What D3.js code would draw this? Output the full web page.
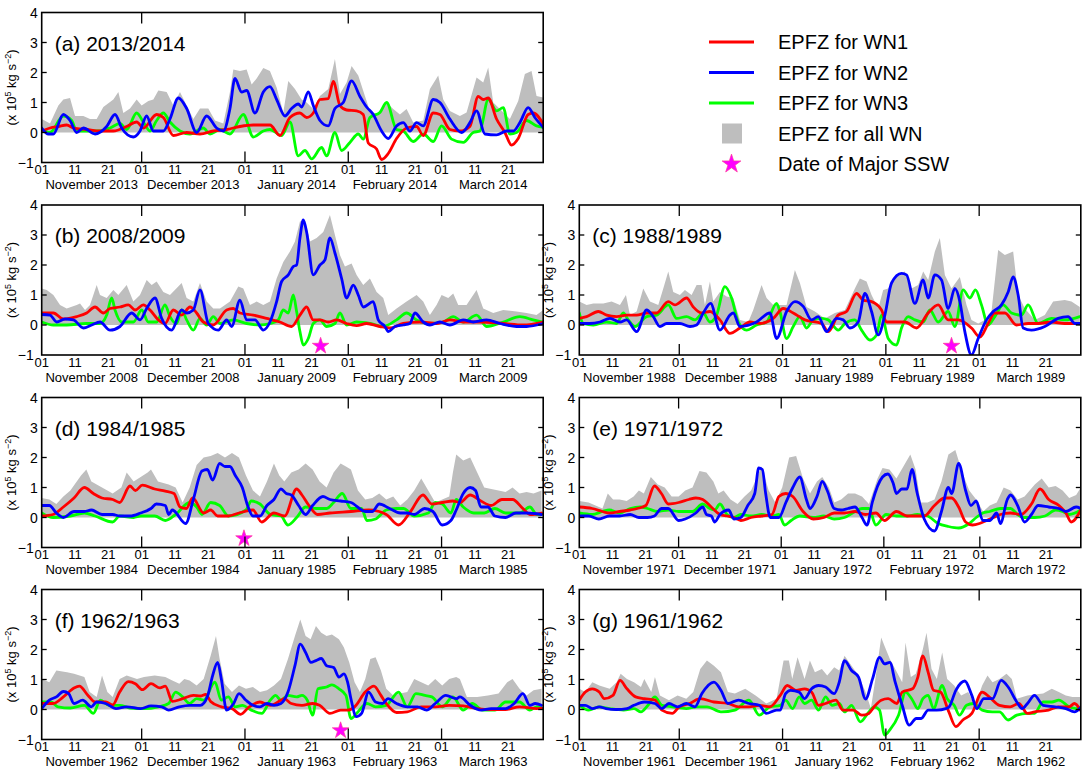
<!DOCTYPE html>
<html><head><meta charset="utf-8">
<script src="https://cdn.jsdelivr.net/npm/d3@7"></script>
<style>
body{margin:0;background:#fff}
svg{display:block}
text{font-family:"Liberation Sans",Arial,Helvetica,sans-serif;fill:#000}
</style>
</head><body>
<svg id="chart" width="1085" height="769"></svg>
<script>
// ---------------- DATA (day index from 1 Nov, value in 1e5 kg s^-2) ----------------
const panelIds = ['a','b','c','d','e','f','g'];
const panelTitles = ['(a) 2013/2014','(b) 2008/2009','(c) 1988/1989','(d) 1984/1985','(e) 1971/1972','(f) 1962/1963','(g) 1961/1962'];
const startYears = [2013,2008,1988,1984,1971,1962,1961];
const monthNames = ['November','December','January','February','March'];
const dayTickLabels = ['01','11','21'];
const yTickValues = [-1,0,1,2,3,4];
const legendLabels = ['EPFZ for WN1','EPFZ for WN2','EPFZ for WN3','EPFZ for all WN','Date of Major SSW'];
const sswPanels = ['b','c','d','f'];
const sswDays = [83.7,111.7,60.7,89.7];
const sswLevel = -0.7;

// (a) 2013/2014
const aRed = [[0,0.05],[2.5,0.15],[5,0.2],[7.5,0.25],[9.5,0.15],[13.5,0.1],[17.5,0.05],[21.5,0.05],[25.5,0.2],[28.5,0.35],[30.5,0.15],[34.5,0.6],[36.5,0.5],[39.5,-0.1],[43.5,0],[47.5,-0.05],[51.5,0.05],[55.5,0.1],[59.5,0.2],[63.5,0.25],[68.5,0.25],[71.5,-0.1],[74.5,0.5],[77.5,0.65],[79.5,0.5],[81.5,0.65],[83.5,1.1],[86,1.13],[87.5,1.7],[89.5,0.9],[91.5,0.75],[94.5,0.72],[96.5,0.6],[98,-0.35],[100.5,-0.55],[102,-0.9],[104,-0.7],[106.5,-0.2],[109.5,0.15],[112.5,0.2],[114.5,-0.1],[117.5,0.65],[119.5,0.6],[122.5,0.1],[125.5,0.05],[128.5,0.2],[131,1.2],[132.5,1.1],[134,1.15],[136.5,0.45],[139,0],[141,-0.42],[143,-0.2],[146,0.6],[147.5,0.65],[150.5,0.28]];
const aBlue = [[0,0.15],[2,-0.05],[3.5,-0.05],[6.5,0.6],[8.5,0.4],[10.5,0],[12.5,0.15],[16,-0.05],[19.5,0.2],[22,0.6],[24,0.15],[27.5,-0.15],[29.5,0.05],[31.5,0.55],[33.5,0.05],[36.5,0.05],[38.5,0.45],[41,1.15],[43.5,0.8],[46.5,0],[49.5,0.55],[52.5,0.15],[54.5,0.05],[56.5,0.8],[58,1.8],[60,1.35],[61.5,1.4],[64,0.65],[66.5,1.35],[68.5,1.53],[70.5,1.1],[73,0.55],[75,0.8],[77,0.95],[78,0.85],[80,1.35],[81.5,0.9],[83.5,0.4],[86,0.22],[88,0.8],[90.5,1.0],[93,1.72],[95.5,1.2],[97.5,0.85],[99.5,0.6],[102,0.05],[104,-0.2],[106.5,0.22],[108.5,0.33],[110.5,0.05],[112.5,0.33],[114.5,0.22],[117.5,1.1],[119.5,1.0],[122.5,0.45],[126,0],[128.5,0.33],[130.5,0.72],[133,-0.05],[136.5,-0.08],[139.5,0.05],[141.5,0.05],[143.5,0.33],[146,0.83],[148,0.5],[150.5,0.17]];
const aGreen = [[0,0.1],[2.5,0],[6.5,0.55],[9,0.4],[10.5,0.05],[13.5,0.05],[17.5,0.05],[20.5,0.15],[23.5,0.3],[25.5,0.1],[28.5,0.65],[30.5,0.35],[32.5,0.05],[34.5,0.4],[36.5,0.65],[38.5,0.35],[41.5,0.05],[44.5,-0.05],[48.5,0.15],[50.5,-0.05],[53.5,0.1],[56.5,-0.05],[60.5,0.6],[63.5,-0.15],[66.5,0.05],[68.5,0.1],[72,-0.1],[74.5,0.35],[77,-0.78],[79,-0.6],[81,-0.88],[84,-0.5],[85.5,-0.78],[88,0],[90,-0.6],[92.5,-0.33],[95,-0.05],[96.5,-0.22],[98.5,0.5],[101.5,0.67],[103.5,1.0],[106.5,0.1],[108.5,0.05],[111.5,-0.3],[114.5,-0.05],[117.5,-0.3],[120,0.22],[123,-0.22],[126.5,-0.33],[129.5,0],[131.5,0.05],[134,1.1],[136.5,0.72],[138.5,0.83],[140.5,-0.05],[142.5,0],[145.5,0.4],[148.5,0.22],[150.5,0.17]];
const aGray = [[0,0.45],[2.5,0.3],[5,0.9],[6.5,1.1],[8.5,1.15],[10,0.55],[12.5,0.55],[14.5,0.45],[16.5,0.45],[18.5,0.85],[21.5,1.1],[23,1.35],[24.5,0.65],[26.5,0.8],[28.5,1.1],[30,0.9],[32,1.05],[33.5,1.1],[35,1.4],[37.5,1.35],[39.5,0.9],[41.5,1.35],[43.5,0.9],[45.5,0.45],[47.5,0.8],[50,0.8],[52,0.4],[54.5,0.3],[56.5,1.35],[57.5,2.1],[59.5,2.05],[61.5,2.1],[63,1.6],[64.5,1.8],[66.5,2.15],[68.5,2.05],[70.5,1.5],[72.5,0.67],[74,1.72],[76,1.45],[78,1.1],[79.5,1.0],[81.5,0.78],[83.5,1.22],[86,1.45],[88,2.45],[89.5,1.28],[91.5,1.67],[93,2.22],[95,1.9],[97,1.22],[98.5,0.72],[100.5,0.6],[103.5,1.0],[105.5,0.78],[107.5,0.6],[109.5,0.78],[111.5,0.33],[114.5,0.4],[116.5,1.45],[119,1.9],[120.5,1.1],[122.5,0.72],[125.5,0.55],[127.5,0.67],[130.5,1.83],[132.5,1.67],[134,2.17],[135.5,1.0],[137.5,0.78],[140.5,0.45],[143,1.05],[145,1.95],[147,2.05],[148.5,1.22],[150.5,1.17]];

// (b) 2008/2009
const bRed = [[0,0.4],[3.5,0.4],[6.5,0.2],[10.5,0.28],[13.5,0.4],[16,0.6],[18.5,0.4],[20.5,0.55],[23.5,0.6],[26,0.67],[28,0.5],[30.5,0.67],[32.5,0.5],[35,0.17],[37,0.05],[39.5,0.5],[42,0.33],[44.5,0.6],[46.5,0.4],[48.5,0.1],[51.5,0],[55.5,0.5],[57.5,0.55],[59.5,0.4],[63.5,0.33],[67.5,0.22],[71.5,0.1],[75,-0.05],[77.5,0.33],[79.5,0.6],[81.5,0.17],[83.5,0.17],[86,0.1],[88.5,0.17],[91.5,0.05],[94.5,-0.02],[97.5,0.05],[101.5,-0.05],[104.5,-0.1],[108.5,0.05],[113.5,0.1],[118.5,0.05],[122.5,0.17],[126.5,0.1],[131.5,0.1],[138.5,0.05],[144.5,0],[150.5,0.1]];
const bBlue = [[0,0.35],[2.5,0.33],[4.5,0.1],[7,0.2],[9.5,0.17],[12.5,-0.1],[15,0],[17.5,0.1],[20.5,-0.17],[23.5,-0.05],[27,0.4],[29.5,0.17],[31.5,0.55],[34,0.9],[36,0.22],[39,-0.17],[42,0.5],[43.5,0.4],[45.5,0.5],[47.5,1.17],[50,0.05],[53,-0.17],[55.5,0.17],[57,-0.05],[59.5,0.83],[61.5,0.17],[64,0.17],[66.5,-0.17],[68.5,0.1],[70.5,0.78],[72,1.45],[74,1.67],[75.5,1.95],[76.5,2.0],[77.5,2.9],[78.5,3.5],[79.5,3.1],[81.5,1.67],[83.5,2.0],[85,2.17],[86.5,2.9],[88,2.4],[90,1.55],[91.5,0.9],[93.5,1.33],[95,1.0],[96.5,0.6],[99.5,0.78],[101,0.17],[103,-0.05],[104,-0.22],[106,-0.05],[108.5,0],[110.5,0.05],[112,0.4],[114.5,0.1],[116.5,0],[119.5,0.1],[122.5,0],[126.5,0.17],[129.5,0.1],[133.5,0.17],[137.5,0.05],[142.5,-0.05],[145.5,-0.05],[150.5,0.05]];
const bGreen = [[0,0.1],[3.5,0],[7.5,0],[13.5,0.05],[17.5,0.05],[19.5,0.33],[21,0.9],[22,0.5],[24,0.1],[27.5,0.1],[30,0.5],[32,0.1],[34.5,0.1],[37,0.67],[38.5,0.28],[40.5,0.05],[42,0.5],[43.5,0.17],[45.5,-0.17],[47.5,0.22],[49.5,0],[51.5,0.28],[53.5,0.05],[57.5,0.17],[61.5,0.05],[65.5,0],[68.5,0.05],[71,0.17],[72.5,0.5],[74,0.4],[75.5,1.0],[76.5,0.45],[77.5,-0.22],[78.5,-0.67],[80,-0.45],[81.5,0.05],[83.5,0.17],[85.5,-0.05],[88,0.05],[89.5,0.4],[91.5,0],[94.5,0.1],[98.5,0.05],[102.5,-0.05],[106.5,0.17],[109.5,0.4],[112.5,0.17],[116.5,0.05],[120.5,0.1],[123.5,0.28],[126.5,0.1],[130.5,0.33],[133.5,-0.05],[138.5,0.1],[143.5,0.28],[147.5,0.17],[150.5,0.1]];
const bGray = [[0,1.22],[1.5,1.17],[3.5,1.0],[5.5,0.67],[7.5,0.55],[10.5,0.67],[11.5,0.72],[13,0.5],[14.5,0.67],[16.5,1.33],[17.5,1.0],[19.5,0.9],[21.5,1.17],[23,1.0],[25.5,1.33],[27.5,0.78],[29.5,1.0],[31.5,1.5],[33,1.33],[34.5,1.45],[36.5,1.1],[38.5,1.0],[42,1.4],[43.5,0.9],[45.5,0.78],[47.5,1.4],[49.5,0.78],[51.5,0.55],[53.5,0.55],[56.5,0.78],[59,1.28],[60.5,1.22],[62.5,0.67],[64.5,0.78],[66.5,0.67],[68.5,0.78],[70.5,1.55],[72.5,2.1],[74.5,2.45],[76,2.78],[77.5,3.45],[79,3.5],[80.5,2.78],[82.5,2.9],[84.5,3.1],[86.5,3.67],[88,3.0],[89.5,2.33],[91,1.95],[93,2.05],[94.5,1.67],[96.5,1.33],[98.5,1.55],[100.5,1.1],[102.5,0.9],[104,0.33],[106.5,0.55],[109.5,0.78],[112.5,1.0],[114.5,0.78],[116.5,0.33],[118.5,0.67],[120,1.0],[122,0.9],[123.5,1.05],[125,0.67],[127.5,0.67],[130.5,1.17],[132.5,0.55],[135.5,0.4],[138.5,0.5],[142.5,0.45],[145.5,0.4],[148.5,0.33],[150.5,0.5]];

// (c) 1988/1989
const cRed = [[0,0.22],[2.2,0.28],[5.7,0.45],[8.2,0.33],[11.2,0.28],[14.2,0.33],[17.2,0.33],[20.2,0.4],[23.2,0.4],[26.7,0.78],[28.7,0.67],[32.2,0.9],[34.2,0.6],[36.7,0.4],[39.2,0.45],[42.2,0.17],[45.2,-0.28],[48.2,-0.1],[51.2,0.1],[54.2,0.05],[58.2,0.22],[61.2,0.55],[64.2,0.4],[67.7,0.17],[72.7,0.05],[74.7,-0.22],[77.7,0.33],[80.2,0.45],[83.2,1.05],[85.2,0.83],[87.7,0.78],[90.7,0.5],[92.2,0.1],[94.7,0.1],[97.7,0.1],[101.2,-0.1],[104.7,0.4],[107.7,0.67],[110.7,0.17],[113.7,0.17],[117.7,-0.1],[120.2,-0.4],[122.7,0.05],[124.7,0.4],[127.7,0.4],[131.2,0],[134.7,0.05],[137.7,0.05],[141.7,0.1],[145.7,0.05],[150.2,0.05]];
const cBlue = [[0,0.05],[3.2,0.05],[6.2,0.1],[9.2,0.22],[12.2,0.1],[14.2,0.17],[17.2,-0.22],[20.2,0.5],[22.2,0.28],[24.2,-0.05],[26.2,0.05],[30.2,0.05],[33.2,-0.05],[35.2,0],[37.2,0.4],[39.4,0.72],[42.2,-0.17],[45.2,0.33],[46.2,0.4],[48.2,-0.05],[53.2,0.1],[57.2,0.4],[59.2,-0.45],[62.2,0.45],[64.7,0.78],[67.2,0.62],[69.7,0.17],[71.7,0.28],[74.2,-0.22],[77.2,0.22],[79.2,0.17],[81.2,-0.1],[83.7,0.1],[85.7,1.05],[87.7,0.45],[89.7,-0.33],[91.7,0.33],[93.7,1.4],[96.7,1.72],[98.2,1.67],[100.7,0.72],[103.2,1.5],[104.7,0.9],[106.7,1.67],[108.7,1.5],[110.7,0.55],[112.7,1.22],[114.2,0.78],[115.7,-0.22],[117.7,-1.0],[119.7,-0.45],[122.2,0.17],[124.2,0.45],[126.7,0.67],[128.7,1.1],[130.2,1.6],[131.7,1.0],[133.2,-0.1],[135.7,-0.17],[139.7,-0.05],[143.7,0.22],[146.7,0.28],[148.7,0.05],[150.2,0.05]];
const cGreen = [[0,0.4],[1.2,0.05],[4.2,0],[8.2,0.1],[11.2,0.05],[13.2,0.4],[14.7,0.17],[16.7,-0.05],[20.2,0.28],[23.2,0.33],[26.7,0.67],[29.2,0.22],[32.2,0.28],[34.7,0.17],[37.2,0.4],[39.2,0.1],[41.2,0.33],[43.7,1.28],[45.7,0.9],[47.7,0.1],[50.2,-0.17],[53.2,0],[56.2,0.1],[59.2,0.72],[60.2,0.45],[62.2,-0.45],[64.2,-0.05],[66.2,0.28],[68.2,-0.1],[70.2,0.17],[72.7,0.22],[74.7,0.17],[77.7,-0.17],[79.7,0.05],[82.7,0.17],[84.7,-0.17],[87.2,-0.5],[89.2,-0.33],[90.7,0.33],[92.7,-0.45],[95.2,-0.67],[96.7,-0.1],[98.7,0.28],[100.7,0.17],[103.2,0.1],[105.2,0.5],[107.7,0.1],[110.7,0.45],[112.7,-0.05],[115.2,1.17],[117.2,0.9],[118.9,1.17],[120.7,0.67],[122.7,0],[124.7,0.28],[127.2,0.67],[129.7,0.4],[132.7,0.33],[134.7,0.67],[137.7,0.05],[141.7,0.22],[145.7,0.17],[150.2,0.28]];
const cGray = [[0,0.78],[2.2,0.67],[4.2,0.72],[7.2,0.72],[9.7,0.78],[12.2,0.67],[14,1.0],[15.2,0.33],[17.2,0.45],[19.2,1.22],[21.2,0.78],[23.7,0.67],[25.2,1.22],[26.7,1.78],[28.2,1.1],[30.2,1.0],[31.7,1.17],[33.7,1.0],[35.2,1.33],[36.7,1.33],[37.7,0.67],[39.2,1.45],[40.2,0.78],[42.2,1.1],[44.2,0.95],[46.2,0.9],[48.2,0.17],[50.7,0.1],[52.2,0.5],[54.7,1.33],[56.2,0.9],[58.2,0.67],[60.2,0.67],[62.2,0.67],[64.7,1.83],[66.2,1.4],[68.2,0.6],[70.7,0.45],[73.7,0.22],[76.7,0.4],[79.7,0.5],[82.7,1.22],[84.2,1.55],[86.2,1.45],[87.7,1.0],[89.7,0.55],[91.2,1.17],[92.7,1.22],[95.2,1.67],[97.7,1.78],[99.7,1.22],[101.7,1.33],[103.2,1.78],[104.7,1.5],[106.7,2.45],[108.2,2.9],[109.7,1.67],[111.7,1.22],[114.2,1.6],[116.2,0.67],[117.7,0.17],[119.7,0.05],[121.7,0.17],[123.7,0.45],[125.7,2.5],[127.7,2.33],[130.2,2.45],[131.7,1.0],[133.7,0.55],[136.7,0.17],[139.7,0.33],[142.2,0.78],[145.7,0.83],[147.7,0.78],[150.2,0.6]];

// (d) 1984/1985
const dRed = [[0,0.05],[3.4,0.1],[6.5,0.35],[9.7,0.65],[12.8,1.0],[15.5,0.8],[18.1,0.65],[21.3,0.6],[23.4,0.5],[26.5,1.05],[28.1,0.9],[30.2,1.08],[33.9,0.95],[37.1,0.88],[39.7,0.8],[41.5,0.35],[43.4,0.3],[45.3,0.65],[48.6,0.15],[50.7,0.25],[52.8,0.05],[56,0.05],[59.2,0.15],[63.4,0.25],[66,-0.15],[69.7,0.15],[72.9,0.05],[76.5,0.95],[78.1,0.75],[80.2,0.4],[82.8,0.1],[86.5,0.15],[92.8,0.2],[98.1,0.25],[101.3,0.2],[103.4,0.1],[107.1,-0.25],[110.7,0.2],[114.4,0.75],[117.1,0.45],[120.2,0.5],[123.4,0.55],[125.5,0.5],[128.6,0.75],[131.8,0.55],[134.9,0.4],[138.1,0.6],[141.3,0.6],[144.4,0.3],[146.5,0.1],[150,0.15]];
const dBlue = [[0,0.4],[2.3,0.4],[4.4,0.15],[6.5,0],[9.7,0.2],[12.8,0.2],[14.9,0.25],[18.1,0.1],[21.3,0.1],[23.4,0.05],[26.5,0.05],[29.7,0.15],[32.8,0.3],[34.4,0.45],[37.1,0.4],[38.1,0.1],[39.2,0.25],[43.2,-0.2],[45.5,0.6],[48.1,1.55],[49.7,1.6],[51.3,1.25],[53.4,1.8],[55,1.7],[56.5,1.7],[58.1,1.4],[60.2,1.0],[61.8,0.4],[63.4,0.05],[65.5,0.05],[67.6,0.4],[69.7,0.6],[71.8,0.95],[73.4,0.8],[74.9,0.75],[77.1,0.4],[79.2,0.1],[81.3,0.4],[84.4,0.7],[86.5,0.6],[89.7,0.55],[92.8,0.5],[97.1,0.2],[99.2,0.2],[101.3,0.45],[104.4,0.3],[107.6,0.15],[109.7,0.15],[111.8,0.1],[114.9,0.3],[117.4,0.2],[120.2,-0.25],[122.8,-0.1],[124.4,0.25],[126.5,0.8],[128.6,1.0],[130.2,0.9],[131.8,0.35],[133.9,0.35],[136,0.05],[139.2,0],[142.3,0.15],[145.5,0.15],[150,0.1]];
const dGreen = [[0,0.15],[3.4,0],[8.6,0.05],[12.8,0.15],[16,0.05],[21.3,-0.15],[23.4,0.05],[27.6,0],[29.7,0.05],[33.9,0.05],[37.1,-0.1],[40.2,0.1],[44.4,0.5],[46.5,0.35],[48.1,0.1],[50.7,0.5],[53.4,0.4],[56,0.05],[61.3,0.25],[62.9,0.55],[65.5,0.45],[68.6,0.1],[71.8,0.05],[73.9,-0.25],[76.5,0],[79.2,0.35],[82.3,0.3],[85.5,0.3],[87.6,0.5],[90.2,0.8],[92.8,0.3],[96,0.3],[97.6,-0.1],[100.2,-0.05],[103.4,0.25],[106.5,0.3],[108.6,0.3],[111.8,0.05],[116,0.15],[118.1,0.5],[120.2,0.45],[122.8,0.15],[124.4,0.6],[126.5,0.35],[129.7,0.15],[132.8,0.15],[136,0.3],[139.2,0.15],[143.4,0.15],[146.5,0.35],[148.6,0.1],[150,0.1]];
const dGray = [[0,0.65],[2.3,0.6],[4.4,0.45],[6.5,0.7],[8.6,0.9],[11.8,1.4],[13.4,1.6],[14.9,1.2],[18.1,1.0],[21.3,0.8],[23.9,1.0],[25.5,1.5],[27.6,1.2],[29.7,1.35],[31.8,1.5],[32.8,1.6],[34.9,1.2],[38.1,1.1],[40.2,1.0],[42.3,0.5],[44.4,1.0],[46.5,1.75],[48.6,2.0],[50.7,2.05],[52.8,2.15],[55,2.0],[57.1,2.15],[59.2,2.0],[61.3,1.4],[63.4,0.9],[65.5,0.7],[67.6,1.2],[69.7,1.8],[71.3,1.4],[72.8,1.2],[74.9,1.5],[77.1,1.6],[79.2,1.8],[81.3,1.6],[83.4,1.2],[85.5,1.0],[87.6,1.5],[89.7,1.8],[91.3,1.7],[92.8,1.6],[94.9,0.9],[97.1,0.6],[99.2,0.65],[101.3,0.8],[103.4,0.6],[105.5,0.7],[107.6,0.4],[109.7,0.6],[111.8,0.9],[113.9,1.3],[116,0.9],[118.1,0.5],[120.2,0.6],[122.3,0.7],[123.4,1.5],[124.4,2.1],[126.5,1.9],[128.6,2.0],[130.7,1.5],[132.8,1.0],[134.9,0.95],[137.1,0.9],[139.2,0.85],[141.3,1.0],[143.4,0.8],[145.5,0.85],[147.6,0.8],[150,0.9]];

// (e) 1971/1972
const eRed = [[0,0.35],[3.9,0.3],[7,0.2],[9.1,0.15],[12.2,0.2],[15.4,0.25],[17.5,0.3],[20.1,0.4],[22.7,1.05],[24.8,0.8],[26.9,0.45],[30,0.5],[33.1,0.6],[35.2,0.65],[37.3,0.6],[39.4,0.4],[42.5,0.1],[44.6,0.05],[46.7,0],[48.8,-0.1],[51.9,0],[55.1,0.05],[58.2,0.1],[60.3,0.7],[62.4,0.8],[64.5,0.7],[67.6,0.2],[70.7,-0.05],[73.9,0],[77,0.15],[80.1,0.15],[83.3,0.2],[86.4,0.1],[89.6,0.15],[92.2,-0.1],[95.8,0.2],[99,0.05],[102.1,0.05],[104.2,0.05],[107.3,0.4],[110.4,0.65],[112.5,0.65],[114.6,0.35],[116.7,-0.15],[118.8,-0.25],[120.9,-0.2],[123,-0.1],[125.1,0],[127.2,0.1],[130.3,0.15],[133.4,0.1],[136.6,0.45],[139.2,0.95],[141.8,0.6],[144.9,0.4],[147,0.15],[148.6,-0.15],[151.5,0.25]];
const eBlue = [[0,0.05],[2.8,0.05],[5.9,-0.05],[9.1,0.05],[12.2,0.05],[15.4,0.1],[18,0],[20.6,0],[22.7,0.05],[24.8,0.3],[26.9,0.3],[30,-0.1],[32,-0.05],[35.2,0.15],[37.3,0.35],[38.4,0.1],[39.9,0.05],[40.9,-0.15],[42.5,0.1],[45.1,0.25],[46.7,-0.05],[48.8,0],[50.9,0.4],[53,0.8],[54.2,1.65],[55.3,1.6],[56.3,0.8],[57.7,0],[60.3,0],[62.4,0.5],[64.5,1.0],[66.6,1.35],[68.6,0.6],[69.7,0.3],[71.8,0.7],[73.4,1.2],[74.9,0.9],[77,0.3],[79.1,0.25],[81.2,0.3],[83.3,0.35],[85.4,0],[86.9,-0.25],[88.5,0.5],[91.6,1.35],[93.2,1.45],[94.8,1.15],[95.8,0.8],[97.4,0.95],[99,0.95],[100.5,1.6],[102.1,0.8],[104.2,-0.05],[107.3,-0.45],[109.4,0.2],[111.5,1.0],[112.5,0.8],[114.6,1.8],[116.7,0.9],[118.3,0.4],[119.9,0.55],[121.9,-0.1],[124,-0.1],[126.1,0.15],[127.2,-0.2],[129.3,0.6],[130.3,0.75],[132.4,0.4],[134.5,-0.15],[136.6,0.1],[138.6,0.4],[141.8,0.35],[144.9,0.3],[147,0.2],[150.1,0.35],[151.5,0.3]];
const eGreen = [[0,0.15],[3.9,0.1],[7,0.2],[9.1,0.25],[12.2,0.15],[15.4,0.3],[18.5,0.35],[20.6,0.3],[23.7,0.2],[26.9,0.25],[30,0.2],[34.2,0.2],[37.3,0.45],[39.4,0.3],[40.9,0.25],[42.5,0.45],[44.6,0.1],[46.7,0],[48.8,0.1],[51.9,0.05],[55.1,0.1],[58.2,0.05],[60.3,0.1],[62,-0.25],[64,-0.1],[66.6,0.05],[70.7,0],[73.9,0.05],[77,-0.05],[80.1,0],[83.3,0.2],[85.4,0.3],[87.5,0.3],[89.6,-0.25],[92.7,0.1],[95.8,0.05],[99,0.05],[102.1,0.1],[105.2,0.05],[108.4,-0.2],[111.5,-0.3],[114.6,-0.35],[117.8,-0.2],[119.9,0],[121.9,0.15],[124,0.2],[127.2,0.3],[130.3,0.3],[132.4,0.1],[134.5,0],[137.6,0],[140.7,0.05],[143.9,0.25],[146,0.2],[148,0.1],[151.5,0.25]];
const eGray = [[0,0.55],[2.8,0.5],[4.9,0.4],[7,0.3],[8.6,0.8],[10.2,0.6],[12.2,0.6],[14.3,0.55],[16.4,0.7],[18,0.9],[19.5,0.8],[21.6,1.35],[23.7,1.1],[25.8,1.0],[27.9,0.7],[30,0.7],[32,0.9],[34.2,1.0],[36.3,1.55],[38.4,1.5],[40.5,1.2],[42,0.8],[43.6,0.9],[45.7,0.6],[47.8,0.45],[49.9,0.7],[51.9,0.9],[53.5,1.3],[55.1,1.7],[57.2,0.9],[59.2,0.5],[61.3,1.0],[63.4,2.0],[65.5,2.05],[67.6,1.3],[69.7,0.8],[71.8,1.2],[73.4,1.35],[75.4,1.0],[77,0.5],[79.1,0.6],[81.2,0.8],[83.3,0.8],[85.4,0.7],[87.5,0.45],[90.1,1.3],[91.6,1.65],[93.7,1.6],[95.8,1.3],[97.9,1.7],[100,2.1],[101.6,1.6],[103.1,0.5],[105.2,0.5],[107.3,0.6],[109.4,1.2],[111.5,2.1],[113.6,2.25],[115.7,1.5],[117.8,0.9],[119.9,0.6],[122,0.2],[124,0.4],[126.1,0.5],[128.2,1.0],[130.3,0.9],[132.4,0.6],[134.5,0.7],[137.6,1.1],[139.7,1.3],[141.8,1.0],[143.9,1.05],[146,0.9],[148,0.65],[150.1,0.75],[151.5,1.0]];

// (f) 1962/1963
const fRed = [[0,0.2],[3.4,0.2],[6.5,0.42],[9.7,0.72],[11.3,0.78],[13.9,0.47],[16,0.25],[19.2,0.25],[21.3,0.15],[23.4,0.58],[26,0.93],[28.1,0.86],[30.2,0.66],[32.8,0.86],[35.5,0.72],[37.1,0.78],[39.2,0.27],[42.3,0.36],[45.5,0.47],[47.6,0.45],[49.2,0.5],[50.7,0.27],[53.9,0.09],[57.1,0.03],[59.7,-0.16],[62.3,0.09],[65.5,0.25],[68.6,0.14],[71.8,0.31],[72.8,0.36],[74.9,0.2],[78.1,0.14],[81.3,0.2],[83.4,0.14],[86.5,-0.13],[89.7,-0.02],[91.8,-0.02],[93.9,0.09],[97.1,0.58],[99.7,0.78],[101.8,0.47],[103.4,0.2],[106.5,-0.1],[109.7,-0.08],[113.9,0.09],[118.1,0.09],[122.3,0.14],[126.5,0.12],[130.7,0.03],[134.9,0],[139.2,0],[143.4,0.09],[148.6,0.03],[150,0.05]];
const fBlue = [[0,0.03],[2.3,0.31],[4.4,0.42],[6.5,0.6],[8.1,0.53],[9.7,0.2],[12.3,0.31],[14.9,0.09],[16.5,0.25],[19.2,0.2],[22.3,0.03],[25.5,0.09],[29.7,0.03],[32.8,0.12],[36,0.09],[38.1,-0.02],[41.3,0.09],[44.4,0.14],[47.6,0.14],[49.7,0.42],[51.3,1.13],[52.8,1.57],[53.9,1.02],[55.5,-0.02],[57.6,0.2],[59.2,0.53],[61.3,0.31],[63.4,0.14],[65.5,0.09],[67.6,0.2],[69.7,0.14],[71.8,0.2],[73.9,0.58],[76,1.46],[77.6,2.18],[79.2,1.9],[80.8,1.57],[82.3,1.63],[83.9,1.7],[85.5,1.46],[87.6,1.4],[89.2,1.08],[90.7,1.19],[91.8,0.91],[92.8,0.36],[94.4,-0.24],[96,-0.13],[98.1,0.58],[100.2,0.25],[102.3,0.2],[103.9,0.36],[106.5,0.2],[109.7,0.09],[112.8,0.09],[115.5,-0.02],[118.1,0.2],[121.3,0.47],[124.4,0.36],[125.5,0.42],[128.6,0.14],[131.8,-0.02],[134.9,0.03],[139.2,0.03],[141.8,0.2],[144.4,0.53],[146.5,0.14],[148.1,0.2],[150,0.14]];
const fGreen = [[0,0.25],[2.8,0.25],[4.9,0.09],[8.6,0.05],[12.8,0.14],[15.5,-0.13],[17.6,0.31],[20.2,0.14],[23.4,0.14],[26.5,0.05],[30.7,0.03],[35,0.09],[38.1,0.2],[40.2,0.58],[42.3,0.42],[44.4,0.2],[46.5,0.36],[48.6,0.31],[52,0.91],[53.9,0.31],[56,0.42],[58.1,0.09],[60.2,0.14],[62.9,-0.02],[66,-0.13],[68.6,0.31],[70.2,0.47],[71.8,0.31],[73.9,0.47],[76.5,0.42],[78.1,0.47],[79.7,0.31],[81.3,-0.19],[82.9,0.69],[85.5,0.75],[87.1,0.82],[89.2,0.69],[91.3,0.47],[92.8,-0.3],[94.9,-0.08],[97.6,0.2],[100.2,0.09],[103.4,0.14],[107.1,0.58],[109.7,0.09],[112.3,0.53],[115,0.47],[117.1,0.42],[120.2,0.09],[123.4,0.42],[126.5,-0.02],[129.2,0.2],[132.3,-0.02],[136,-0.02],[139.2,0.25],[143.4,0.25],[146.5,-0.02],[148.6,0.09],[150,0.05]];
const fGray = [[0,1.02],[2.3,0.91],[4.4,1.3],[7.6,1.24],[9.7,1.19],[12.8,1.08],[14.4,0.58],[16.5,0.42],[18.1,1.13],[19.7,0.58],[21.3,0.42],[23.4,1.02],[25.5,1.13],[28.6,1.02],[30.7,1.08],[33.9,1.13],[37.1,1.08],[39.2,0.97],[41.3,0.86],[42.8,1.02],[44.4,0.97],[46.5,0.8],[48.6,1.02],[50.7,1.79],[52.3,2.45],[53.4,1.68],[54.9,0.86],[57.1,0.58],[59.2,0.8],[61.3,0.69],[63.4,0.75],[65.5,0.58],[67.6,0.64],[69.7,0.8],[71.8,1.02],[73.9,1.68],[76,2.45],[77.6,3.0],[79.2,2.45],[80.7,2.34],[82.3,2.78],[83.9,2.56],[85.5,2.45],[87.1,2.5],[89.2,2.34],[90.7,2.07],[92.3,1.57],[93.9,0.91],[95.5,0.58],[97.1,1.02],[98.6,1.68],[100.2,1.74],[101.8,1.3],[103.4,0.69],[105.5,0.47],[107.6,0.53],[109.7,0.58],[111.8,1.02],[113.9,0.91],[116,0.8],[118.1,1.02],[120.2,0.8],[122.3,1.02],[124.4,1.08],[125.5,1.02],[127.6,0.42],[130.7,0.42],[133.9,0.47],[137.1,0.53],[139.7,0.91],[141.3,1.02],[143.4,0.69],[145.5,0.47],[147.6,0.64],[150,0.69]];

// (g) 1961/1962
const gRed = [[0,0.31],[1.8,0.58],[3.9,0.69],[6,0.58],[7.5,0.36],[10.1,0.47],[12.2,0.97],[14.3,0.69],[16.9,0.42],[19.5,0.36],[22.7,0.31],[24.8,-0.02],[27.9,-0.13],[30,0.09],[33.1,0.2],[36.3,0.36],[40.4,0.25],[44.6,0.2],[47.8,0.09],[50.9,0.09],[54,0.14],[57.2,0.09],[60.3,0.47],[62.4,0.8],[65,0.64],[67.6,0.69],[69.7,0.58],[71.8,0.14],[73.9,0.2],[77,0.31],[79.1,-0.02],[82.2,-0.02],[84.8,-0.19],[86.9,-0.13],[88.5,0.09],[90.6,0.31],[92.7,0.36],[95.3,0.2],[96.9,0.58],[100,0.69],[101.6,1.08],[103.1,1.79],[104.7,1.24],[106.3,0.64],[108.4,0.58],[110.9,-0.08],[113,-0.57],[115.1,-0.35],[117.8,-0.13],[120.9,0.58],[123,0.42],[126.1,0.14],[129.3,0.09],[131.9,0.2],[134.5,-0.13],[136.6,-0.08],[140.8,-0.02],[143.9,0.09],[147,0.09],[148.6,0.2],[150.7,-0.08]];
const gBlue = [[0,0.14],[1.8,0.14],[3.9,0.03],[6,0.09],[8,0.03],[11.2,0],[14.3,0.03],[16.4,0.14],[19.5,0.25],[22.7,0.2],[24.8,0.03],[26.9,0.2],[29.5,0.09],[32.1,0.2],[34.7,0.09],[36.8,0.53],[40.4,0.91],[42.5,0.64],[44.6,0.2],[47.8,0.31],[50.9,0.2],[54,0.14],[56.1,-0.13],[59.2,-0.02],[60.3,-0.02],[61.9,0.53],[63.4,0.64],[66,0.58],[67.6,0.36],[69.7,0.69],[71.8,0.8],[73.9,0.75],[76.5,0.53],[78,0.91],[79.6,1.63],[81.7,1.3],[83.8,1.08],[85.9,0.35],[88,1.02],[90.1,1.74],[91.6,1.52],[93.2,1.57],[94.8,0.91],[96.9,0.14],[99,-0.52],[101.1,-0.3],[102.6,-0.3],[104.7,-0.02],[107.3,-0.02],[110,0.03],[111,0.09],[113,0.64],[115.7,0.95],[117.8,0.47],[119.3,0.03],[121.4,0.36],[124,0.36],[126.6,0.97],[128.7,0.75],[131.3,0.25],[132.9,0.03],[134.5,0.2],[136.6,0.47],[139.2,0.14],[142.8,0.09],[146,0.03],[148.6,-0.08],[150.7,0.09]];
const gGreen = [[0,0.14],[2.8,-0.02],[5.9,0.09],[9.1,0.03],[13.3,-0.02],[16.4,0.03],[18.5,-0.08],[20.6,0.14],[22.7,0.42],[24.8,0.14],[27.9,0.09],[32.1,0.03],[35.2,0.09],[38.3,0.09],[42.5,-0.08],[46.7,-0.02],[50.9,0.31],[54,-0.19],[57.2,0.09],[60.3,0.14],[61.9,0.31],[64,0.03],[66,0.42],[67.6,0.2],[69.7,0.31],[71.8,-0.02],[73.9,0.42],[75.9,0.14],[78,0.2],[79.6,-0.08],[81.7,0.14],[84.3,-0.41],[86.9,-0.08],[88.5,0.09],[90.1,-0.02],[91.6,-0.85],[93.2,-0.68],[95.8,-0.19],[97.9,0.58],[100,0.31],[101.6,0.03],[103.1,0.36],[104.7,0.47],[106.3,0.03],[108.9,0.8],[110.4,0.36],[112.5,0.14],[114.1,-0.19],[116.2,0.14],[118.3,0.2],[120.9,-0.02],[124,-0.08],[126.1,-0.08],[128.7,-0.35],[131.3,-0.19],[134.5,-0.13],[136.6,-0.13],[139.2,0.25],[141.8,0.25],[143.9,0.31],[147,0.09],[149.1,0.03],[150.7,0.09]];
const gGray = [[0,0.69],[1.8,0.58],[3.9,0.91],[6,0.8],[9.1,0.69],[11.2,0.91],[12.4,1.19],[14.3,1.02],[16.4,0.91],[18.5,0.75],[19.5,1.02],[21.6,0.58],[22.7,1.08],[24.2,0.47],[26.9,0.31],[29.5,0.47],[32.1,0.36],[34.2,0.58],[36.3,1.35],[38.3,1.63],[40.4,1.46],[42.5,1.24],[44.6,0.58],[46.7,0.53],[49.8,0.69],[52.9,0.47],[56.1,0.2],[59.2,0.36],[61.3,1.63],[62.9,1.63],[63.9,1.02],[65.5,1.74],[67.6,1.02],[69.2,1.63],[70.7,1.24],[72.8,1.35],[74.4,1.13],[76.5,1.41],[78,1.3],[79.6,1.79],[81.7,1.46],[83.8,1.13],[85.9,0.58],[87.5,0.03],[89,1.13],[90.6,2.4],[91.6,2.12],[93.2,1.68],[94.8,1.35],[96.9,0.91],[97.9,2.23],[99.5,1.08],[101,1.19],[103.1,2.01],[104.2,2.56],[105.7,1.35],[107.3,1.02],[108.9,1.9],[110.4,1.02],[112.5,0.8],[114.6,0.47],[116.7,0.58],[118.8,0.14],[120.9,0.8],[122.5,1.13],[124,0.91],[126.1,1.02],[128.2,1.19],[129.8,1.02],[131.3,0.36],[134.5,0.47],[136.6,0.5],[139.2,0.53],[141.8,0.69],[143.9,0.58],[146,0.47],[148,0.42],[150.7,0.42]];

const redSeries   = [aRed, bRed, cRed, dRed, eRed, fRed, gRed];
const blueSeries  = [aBlue, bBlue, cBlue, dBlue, eBlue, fBlue, gBlue];
const greenSeries = [aGreen, bGreen, cGreen, dGreen, eGreen, fGreen, gGreen];
const graySeries  = [aGray, bGray, cGray, dGray, eGray, fGray, gGray];

// ---------------- LAYOUT / STYLE ----------------
const colLeft = [41.7, 579.3];
const rowTop = [12.5, 205, 397.5, 589.5];
const plotW = 501.5, plotH = 150;
const panelPos = [[0,0],[0,1],[1,1],[0,2],[1,2],[0,3],[1,3]]; // [col,row]
const COL = {red:'#ff0000', blue:'#0000ff', green:'#00ff00', gray:'#bebebe', star:'#ff00ff'};

const svg = d3.select('#chart');
const starPath = d3.symbol(d3.symbolStar, 85)();

function isLeap(y){ return (y%4===0 && y%100!==0) || y%400===0; }

panelIds.forEach((pid, i) => {
  const [c, r] = panelPos[i];
  const left = colLeft[c], top = rowTop[r];
  const y2 = startYears[i] + 1;
  const monthLens = [30, 31, 31, isLeap(y2) ? 29 : 28, 31];
  const monthStarts = [];
  let acc = 0;
  monthLens.forEach(l => { monthStarts.push(acc); acc += l; });
  const nDays = acc;

  const x = d3.scaleLinear().domain([0, nDays - 0.5]).range([left, left + plotW]);
  const y = d3.scaleLinear().domain([-1, 4]).range([top + plotH, top]);

  const g = svg.append('g');
  const clipId = 'clip-' + pid;
  svg.append('clipPath').attr('id', clipId)
    .append('rect').attr('x', left).attr('y', top).attr('width', plotW).attr('height', plotH);

  const plot = g.append('g').attr('clip-path', `url(#${clipId})`);

  // gray area (all WN)
  const area = d3.area().x(d => x(d[0])).y0(y(0)).y1(d => y(d[1])).curve(d3.curveLinear);
  plot.append('path').datum(graySeries[i]).attr('d', area).attr('fill', COL.gray).attr('stroke', 'none');

  const line = d3.line().x(d => x(d[0])).y(d => y(d[1])).curve(d3.curveMonotoneX);
  [[greenSeries[i], COL.green], [redSeries[i], COL.red], [blueSeries[i], COL.blue]].forEach(([s, col]) => {
    plot.append('path').datum(s).attr('d', line).attr('fill', 'none')
      .attr('stroke', col).attr('stroke-width', 2.8).attr('stroke-linejoin', 'round').attr('stroke-linecap', 'round');
  });

  // SSW star
  const si = sswPanels.indexOf(pid);
  if (si >= 0) {
    g.append('path').attr('d', starPath)
      .attr('transform', `translate(${x(sswDays[si])},${y(sswLevel)})`)
      .attr('fill', COL.star).attr('stroke', '#ff3b9a').attr('stroke-width', 0.7);
  }

  // frame
  g.append('rect').attr('x', left).attr('y', top).attr('width', plotW).attr('height', plotH)
    .attr('fill', 'none').attr('stroke', '#000').attr('stroke-width', 1.6);

  // x ticks at month starts (inward, top & bottom)
  monthStarts.slice(1).forEach(ms => {
    const xx = x(ms);
    g.append('line').attr('x1', xx).attr('x2', xx).attr('y1', top).attr('y2', top + 11)
      .attr('stroke', '#000').attr('stroke-width', 1.3);
    g.append('line').attr('x1', xx).attr('x2', xx).attr('y1', top + plotH).attr('y2', top + plotH - 11)
      .attr('stroke', '#000').attr('stroke-width', 1.3);
  });
  // y ticks (inward, left & right)
  yTickValues.slice(1, -1).forEach(v => {
    g.append('line').attr('x1', left).attr('x2', left + 5).attr('y1', y(v)).attr('y2', y(v))
      .attr('stroke', '#000').attr('stroke-width', 1.3);
    g.append('line').attr('x1', left + plotW).attr('x2', left + plotW - 5).attr('y1', y(v)).attr('y2', y(v))
      .attr('stroke', '#000').attr('stroke-width', 1.3);
  });

  // y tick labels
  yTickValues.forEach(v => {
    g.append('text').attr('x', v < 0 ? left - 8 : left - 4).attr('y', y(v) + 5).attr('text-anchor', 'end')
      .attr('font-size', 14).text(v < 0 ? '\u2212' + Math.abs(v) : String(v));
  });

  // x day labels
  monthStarts.forEach(ms => {
    dayTickLabels.forEach((lab, k) => {
      g.append('text').attr('x', x(ms + k * 10)).attr('y', top + plotH + 11.9)
        .attr('text-anchor', 'middle').attr('font-size', 13).text(lab);
    });
  });
  // month labels
  monthNames.forEach((mn, k) => {
    const yr = k < 2 ? startYears[i] : y2;
    g.append('text').attr('x', x(monthStarts[k] + monthLens[k] / 2)).attr('y', top + plotH + 26.5)
      .attr('text-anchor', 'middle').attr('font-size', 13).text(`${mn} ${yr}`);
  });

  // y axis title
  const yt = g.append('text').attr('transform', `translate(${left - 26},${top + plotH / 2}) rotate(-90)`)
    .attr('text-anchor', 'middle').attr('font-size', 13);
  yt.append('tspan').text('(x 10');
  yt.append('tspan').attr('dy', -5).attr('font-size', 9).text('5');
  yt.append('tspan').attr('dy', 5).text(' kg s');
  yt.append('tspan').attr('dy', -5).attr('font-size', 9).text('\u22122');
  yt.append('tspan').attr('dy', 5).text(')');

  // panel title
  g.append('text').attr('x', left + 13).attr('y', top + 38).attr('font-size', 21).text(panelTitles[i]);
});

// ---------------- LEGEND ----------------
const legRows = [42, 72.5, 103, 133.5, 164];
const lg = svg.append('g');
[COL.red, COL.blue, COL.green].forEach((col, k) => {
  lg.append('line').attr('x1', 709).attr('x2', 754).attr('y1', legRows[k]).attr('y2', legRows[k])
    .attr('stroke', col).attr('stroke-width', 3);
});
lg.append('rect').attr('x', 722).attr('y', legRows[3] - 10).attr('width', 20).attr('height', 20).attr('fill', COL.gray);
lg.append('path').attr('d', d3.symbol(d3.symbolStar, 110)()).attr('transform', `translate(731.5,${legRows[4]})`)
  .attr('fill', COL.star).attr('stroke', '#ff3b9a').attr('stroke-width', 0.7);
legendLabels.forEach((lab, k) => {
  lg.append('text').attr('x', 778).attr('y', legRows[k] + 7).attr('font-size', 20).text(lab);
});
</script>
</body></html>
